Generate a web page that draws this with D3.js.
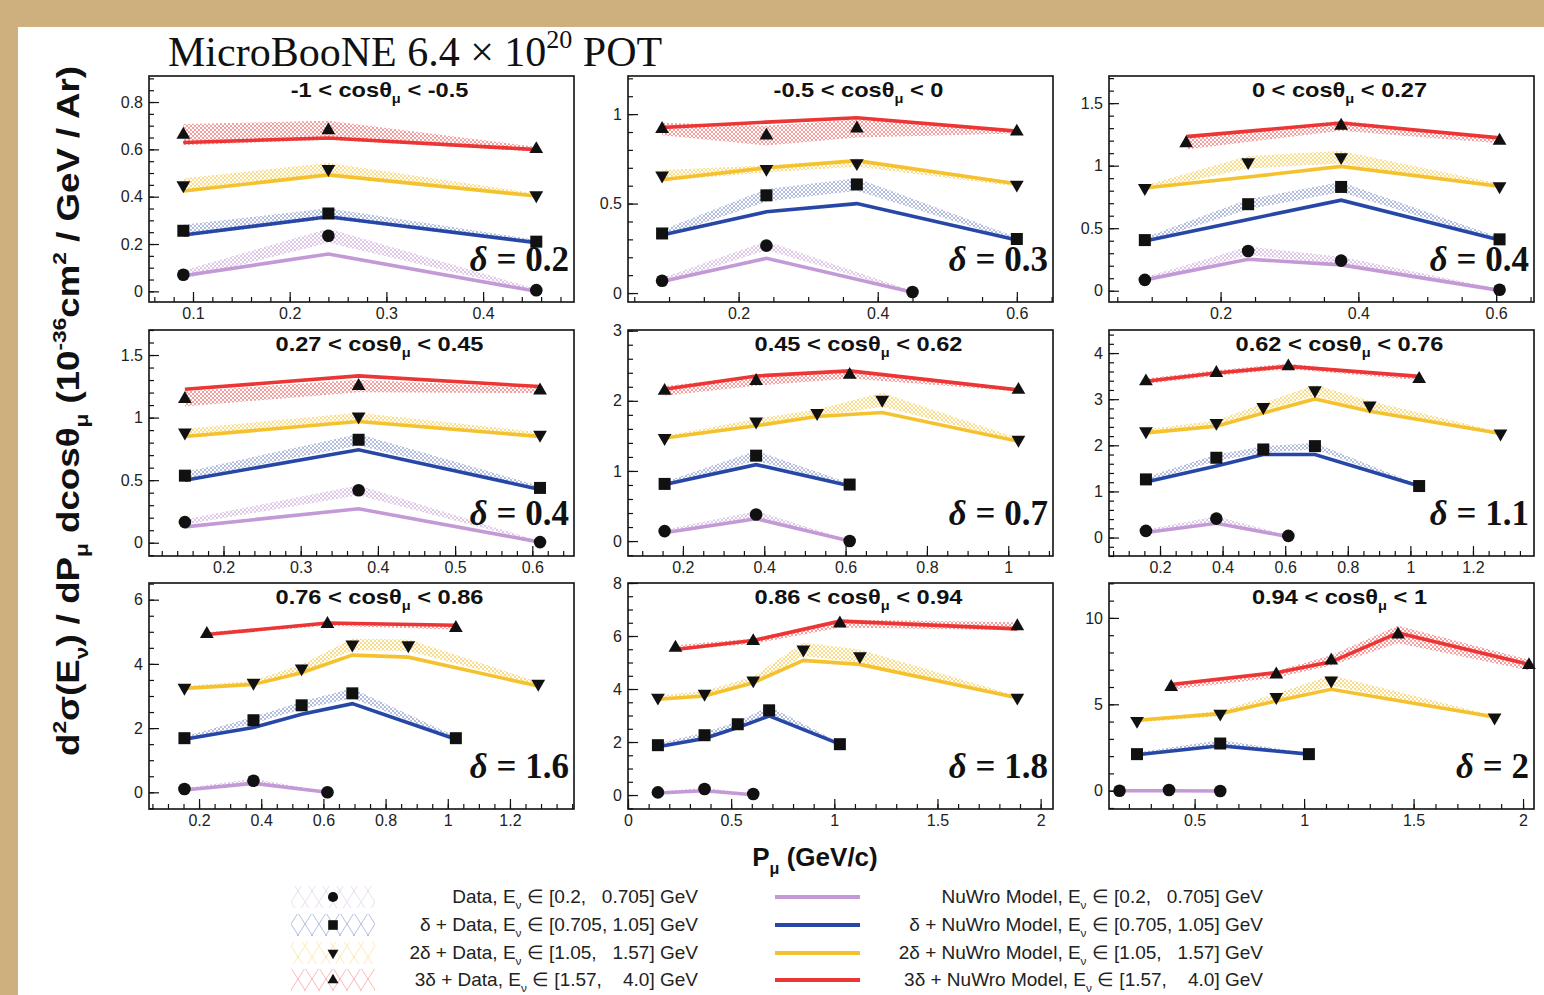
<!DOCTYPE html>
<html>
<head>
<meta charset="utf-8">
<script src="https://cdn.jsdelivr.net/npm/d3@7"></script>
<style>
  body { margin: 0; background: #cdb07d; }
  svg text { white-space: pre; }
</style>
</head>
<body>
<svg id="chart" width="1544" height="995" font-family="Liberation Sans, Arial, sans-serif"></svg>
<script>
// panel labels
const cosLo = ["-1", "-0.5", "0", "0.27", "0.45", "0.62", "0.76", "0.86", "0.94"];
const cosHi = ["-0.5", "0", "0.27", "0.45", "0.62", "0.76", "0.86", "0.94", "1"];
const deltas = ["0.2", "0.3", "0.4", "0.4", "0.7", "1.1", "1.6", "1.8", "2"];

// axis ranges and ticks
const xDomains = [[0.0545, 0.494], [0.041, 0.652], [0.038, 0.655], [0.1035, 0.654], [0.065, 1.11],
                  [0.037, 1.395], [0.039, 1.406], [0, 2.06], [0.109, 2.05]];
const yDomains = [[-0.045, 0.91], [-0.05, 1.213], [-0.09, 1.717], [-0.106, 1.70], [-0.213, 3.01],
                  [-0.40, 4.50], [-0.52, 6.52], [-0.527, 8.0], [-1.06, 12.02]];
const xTicks = [[0.1, 0.2, 0.3, 0.4], [0.2, 0.4, 0.6], [0.2, 0.4, 0.6], [0.2, 0.3, 0.4, 0.5, 0.6],
                [0.2, 0.4, 0.6, 0.8, 1], [0.2, 0.4, 0.6, 0.8, 1, 1.2], [0.2, 0.4, 0.6, 0.8, 1, 1.2],
                [0, 0.5, 1, 1.5, 2], [0.5, 1, 1.5, 2]];
const xMinor = [0.02, 0.05, 0.05, 0.02, 0.05, 0.05, 0.05, 0.1, 0.1];
const yTicks = [[0, 0.2, 0.4, 0.6, 0.8], [0, 0.5, 1], [0, 0.5, 1, 1.5], [0, 0.5, 1, 1.5], [0, 1, 2, 3],
                [0, 1, 2, 3, 4], [0, 2, 4, 6], [0, 2, 4, 6, 8], [0, 5, 10]];
const yMinor = [0.05, 0.1, 0.1, 0.1, 0.2, 0.2, 0.5, 0.5, 1];

// series order: [Eν 0.2-0.705, δ+ 0.705-1.05, 2δ+ 1.05-1.57, 3δ+ 1.57-4.0]
const pMu = [
  [[0.09, 0.24, 0.455], [0.09, 0.24, 0.455], [0.09, 0.24, 0.455], [0.09, 0.24, 0.455]],
  [[0.09, 0.24, 0.45], [0.09, 0.24, 0.37, 0.6], [0.09, 0.24, 0.37, 0.6], [0.09, 0.24, 0.37, 0.6]],
  [[0.09, 0.24, 0.375, 0.605], [0.09, 0.24, 0.375, 0.605], [0.09, 0.24, 0.375, 0.605], [0.15, 0.375, 0.605]],
  [[0.15, 0.375, 0.61], [0.15, 0.375, 0.61], [0.15, 0.375, 0.61], [0.15, 0.375, 0.61]],
  [[0.155, 0.38, 0.61], [0.155, 0.38, 0.61], [0.155, 0.38, 0.53, 0.69, 1.025], [0.155, 0.38, 0.61, 1.025]],
  [[0.155, 0.38, 0.61], [0.155, 0.38, 0.53, 0.695, 1.028], [0.155, 0.38, 0.53, 0.695, 0.87, 1.288], [0.155, 0.38, 0.61, 1.028]],
  [[0.153, 0.375, 0.613], [0.153, 0.375, 0.53, 0.693, 1.026], [0.153, 0.375, 0.53, 0.693, 0.873, 1.291], [0.225, 0.613, 1.026]],
  [[0.145, 0.371, 0.607], [0.145, 0.371, 0.532, 0.684, 1.027], [0.145, 0.371, 0.607, 0.85, 1.124, 1.887], [0.23, 0.607, 1.027, 1.887]],
  [[0.157, 0.383, 0.617], [0.237, 0.617, 1.022], [0.237, 0.617, 0.873, 1.124, 1.87], [0.393, 0.873, 1.124, 1.429, 2.027]]
];
const dataVals = [
  [[0.070, 0.235, 0.005], [0.256, 0.329, 0.210], [0.448, 0.517, 0.406], [0.662, 0.681, 0.601]],
  [[0.069, 0.265, 0.006], [0.333, 0.546, 0.607, 0.302], [0.657, 0.694, 0.726, 0.606], [0.917, 0.88, 0.92, 0.902]],
  [[0.087, 0.318, 0.241, 0.008], [0.405, 0.692, 0.830, 0.411], [0.822, 1.028, 1.068, 0.835], [1.179, 1.320, 1.20]],
  [[0.165, 0.419, 0.005], [0.536, 0.823, 0.438], [0.881, 1.009, 0.863], [1.149, 1.253, 1.216]],
  [[0.142, 0.379, 0.0], [0.815, 1.218, 0.806], [1.469, 1.706, 1.825, 2.014, 1.445], [2.142, 2.284, 2.37, 2.156]],
  [[0.144, 0.411, 0.036], [1.261, 1.730, 1.910, 1.982, 1.117], [2.306, 2.486, 2.832, 3.193, 2.861, 2.256], [3.387, 3.568, 3.712, 3.438]],
  [[0.103, 0.362, 0.0], [1.686, 2.245, 2.710, 3.083, 1.686], [3.259, 3.414, 3.859, 4.603, 4.583, 3.383], [4.934, 5.245, 5.121]],
  [[0.10, 0.226, 0.038], [1.881, 2.257, 2.671, 3.197, 1.918], [3.674, 3.824, 4.326, 5.492, 5.241, 3.674], [5.555, 5.806, 6.47, 6.37]],
  [[0.0, 0.04, -0.02], [2.115, 2.73, 2.115], [4.04, 4.46, 5.42, 6.38, 4.23], [6.0, 6.73, 7.54, 9.04, 7.27]]
];
const dataErr = [
  [[0.018, 0.03, 0.005], [0.025, 0.022, 0.008], [0.03, 0.025, 0.008], [0.045, 0.04, 0.01]],
  [[0.015, 0.025, 0.005], [0.02, 0.035, 0.035, 0.01], [0.03, 0.02, 0.02, 0.01], [0.035, 0.055, 0.05, 0.01]],
  [[0.02, 0.035, 0.03, 0.005], [0.02, 0.04, 0.04, 0.015], [0.02, 0.05, 0.05, 0.02], [0.05, 0.04, 0.02]],
  [[0.02, 0.04, 0.005], [0.03, 0.045, 0.015], [0.03, 0.03, 0.02], [0.06, 0.05, 0.02]],
  [[0.02, 0.05, 0.01], [0.03, 0.07, 0.02], [0.03, 0.04, 0.05, 0.1, 0.02], [0.07, 0.07, 0.05, 0.02]],
  [[0.03, 0.05, 0.01], [0.05, 0.07, 0.07, 0.07, 0.02], [0.04, 0.05, 0.08, 0.12, 0.1, 0.03], [0.06, 0.06, 0.06, 0.03]],
  [[0.03, 0.06, 0.01], [0.05, 0.1, 0.12, 0.15, 0.05], [0.05, 0.06, 0.12, 0.18, 0.18, 0.05], [0.05, 0.06, 0.05]],
  [[0.03, 0.05, 0.01], [0.06, 0.1, 0.1, 0.15, 0.05], [0.08, 0.1, 0.15, 0.25, 0.25, 0.06], [0.1, 0.1, 0.15, 0.15]],
  [[0.03, 0.04, 0.02], [0.1, 0.2, 0.05], [0.1, 0.15, 0.2, 0.3, 0.1], [0.15, 0.2, 0.3, 0.5, 0.3]]
];
const modelVals = [
  [[0.066, 0.158, 0.0], [0.238, 0.315, 0.206], [0.424, 0.492, 0.403], [0.629, 0.648, 0.599]],
  [[0.065, 0.194, 0.005], [0.324, 0.454, 0.50, 0.296], [0.633, 0.70, 0.74, 0.611], [0.925, 0.955, 0.98, 0.905]],
  [[0.087, 0.252, 0.207, 0.003], [0.398, 0.57, 0.724, 0.405], [0.822, 0.909, 0.994, 0.835], [1.232, 1.341, 1.222]],
  [[0.127, 0.271, 0.005], [0.499, 0.743, 0.425], [0.849, 0.969, 0.849], [1.226, 1.333, 1.248]],
  [[0.118, 0.318, 0.0], [0.806, 1.09, 0.79], [1.469, 1.645, 1.777, 1.834, 1.422], [2.166, 2.355, 2.427, 2.156]],
  [[0.108, 0.31, 0.02], [1.204, 1.55, 1.80, 1.80, 1.117], [2.27, 2.414, 2.70, 3.005, 2.74, 2.256], [3.387, 3.568, 3.712, 3.495]],
  [[0.072, 0.279, 0.0], [1.655, 2.017, 2.43, 2.762, 1.655], [3.238, 3.362, 3.724, 4.272, 4.21, 3.31], [4.914, 5.276, 5.203]],
  [[0.075, 0.163, 0.01], [1.818, 2.13, 2.545, 2.984, 1.918], [3.611, 3.737, 4.238, 5.078, 4.93, 3.674], [5.49, 5.83, 6.56, 6.27]],
  [[0.0, 0.0, -0.02], [2.08, 2.6, 2.115], [4.08, 4.46, 5.19, 5.87, 4.27], [6.15, 6.83, 7.46, 9.13, 7.31]]
];

const colors = ["#c49ad6", "#2747a6", "#f5c22f", "#ec3535"];
const hatchOpacity = [0.7, 0.45, 0.7, 0.6];
const legendPrefix = ["", "δ + ", "2δ + ", "3δ + "];
const legendRanges = ["[0.2,   0.705]", "[0.705, 1.05]", "[1.05,   1.57]", "[1.57,    4.0]"];

const W = 1544, H = 995;
const SERIF = "Liberation Serif, Times New Roman, serif";
const svg = d3.select("#chart");
svg.append("rect").attr("width", W).attr("height", H).attr("fill", "#cdb07d");
svg.append("rect").attr("x", 18).attr("y", 27).attr("width", W - 18).attr("height", H - 27).attr("fill", "#fff");

const defs = svg.append("defs");
colors.forEach((c, k) => {
  const p = defs.append("pattern").attr("id", "hatch" + k)
    .attr("patternUnits", "userSpaceOnUse").attr("width", 4).attr("height", 4);
  p.append("path").attr("d", "M0,0L4,4M4,0L0,4M-1,3L1,5M3,-1L5,1")
    .attr("stroke", c).attr("stroke-width", 0.8).attr("stroke-opacity", hatchOpacity[k]);
  const q = defs.append("pattern").attr("id", "bighatch" + k)
    .attr("patternUnits", "userSpaceOnUse").attr("x", 291).attr("width", 14).attr("height", 22);
  q.append("path").attr("d", "M0,0L14,22M14,0L0,22")
    .attr("stroke", c).attr("stroke-width", 1).attr("stroke-opacity", 0.35);
});

// text with sub/superscripts: parts = [[text, "sub"|"sup"|"it"|""], ...]
function rich(sel, parts, size) {
  let shift = 0;
  parts.forEach(p => {
    const t = sel.append("tspan").text(p[0]);
    let target = 0;
    if (p[1] === "sub") { t.attr("font-size", size * 0.62); target = size * 0.3; }
    if (p[1] === "sup") { t.attr("font-size", size * 0.62); target = -size * 0.42; }
    if (p[1] === "it") t.attr("font-style", "italic");
    if (target - shift !== 0) t.attr("dy", target - shift);
    shift = target;
  });
  return sel;
}

function marker(k) {
  if (k === 0) return d3.symbol().type(d3.symbolCircle).size(125)();
  if (k === 1) return d3.symbol().type(d3.symbolSquare).size(144)();
  return d3.symbol().type(d3.symbolTriangle).size(82)();
}

const fmt = d => String(+d.toFixed(3));
const colLeft = [149, 628, 1109], rowTop = [76, 330, 583];
const pw = 425, ph = 226;

for (let i = 0; i < 9; i++) {
  const x0 = colLeft[i % 3], y0 = rowTop[Math.floor(i / 3)];
  const g = svg.append("g").attr("transform", "translate(" + x0 + "," + y0 + ")");
  const x = d3.scaleLinear().domain(xDomains[i]).range([0, pw]);
  const y = d3.scaleLinear().domain(yDomains[i]).range([ph, 0]);

  // minor ticks
  const xm = d3.range(Math.ceil(xDomains[i][0] / xMinor[i]), Math.floor(xDomains[i][1] / xMinor[i]) + 1).map(n => n * xMinor[i]);
  const ym = d3.range(Math.ceil(yDomains[i][0] / yMinor[i]), Math.floor(yDomains[i][1] / yMinor[i]) + 1).map(n => n * yMinor[i]);
  g.append("g").attr("transform", "translate(0," + ph + ")")
    .call(d3.axisBottom(x).tickValues(xm).tickSize(-5).tickFormat(""));
  g.append("g").call(d3.axisLeft(y).tickValues(ym).tickSize(-5).tickFormat(""));
  g.append("g").attr("transform", "translate(0," + ph + ")")
    .call(d3.axisBottom(x).tickValues(xTicks[i]).tickSize(-10).tickPadding(6).tickFormat(fmt));
  g.append("g")
    .call(d3.axisLeft(y).tickValues(yTicks[i]).tickSize(-10).tickPadding(6).tickFormat(fmt));
  g.selectAll(".domain").remove();
  g.selectAll(".tick line").attr("stroke", "#111").attr("stroke-width", 1.2);
  g.selectAll(".tick text").attr("font-size", 16).attr("fill", "#222")
    .attr("font-family", "Liberation Sans, Arial, sans-serif");

  const plot = g.append("g");
  for (let k = 0; k < 4; k++) {
    const pts = pMu[i][k].map((v, j) => ({ x: v, d: dataVals[i][k][j], e: dataErr[i][k][j] }));
    plot.append("path").datum(pts)
      .attr("fill", "url(#hatch" + k + ")")
      .attr("d", d3.area().x(d => x(d.x)).y0(d => y(d.d - d.e)).y1(d => y(d.d + d.e)));
  }
  for (let k = 0; k < 4; k++) {
    const pts = pMu[i][k].map((v, j) => ({ x: v, m: modelVals[i][k][j] }));
    plot.append("path").datum(pts)
      .attr("fill", "none").attr("stroke", colors[k]).attr("stroke-width", 3.6)
      .attr("d", d3.line().x(d => x(d.x)).y(d => y(d.m)));
  }
  for (let k = 0; k < 4; k++) {
    const pts = pMu[i][k].map((v, j) => ({ x: v, d: dataVals[i][k][j] }));
    plot.selectAll(null).data(pts).enter().append("path")
      .attr("d", marker(k)).attr("fill", "#111")
      .attr("transform", d => "translate(" + x(d.x) + "," + y(d.d) + ")" + (k === 2 ? " rotate(180)" : ""));
  }

  g.append("rect").attr("width", pw).attr("height", ph)
    .attr("fill", "none").attr("stroke", "#111").attr("stroke-width", 1.6);

  rich(g.append("text").attr("transform", "translate(" + (pw / 2 + 18) + ",21) scale(1.18,1)")
    .attr("text-anchor", "middle")
    .attr("font-size", 20).attr("font-weight", "bold").attr("fill", "#111"),
    [[cosLo[i] + " < cosθ", ""], ["μ", "sub"], [" < " + cosHi[i], ""]], 20);

  rich(g.append("text").attr("x", pw - 5).attr("y", 195).attr("text-anchor", "end")
    .attr("font-family", SERIF)
    .attr("font-size", 35).attr("font-weight", "bold").attr("fill", "#111"),
    [["δ", "it"], [" = " + deltas[i], ""]], 35);
}

// main title
rich(svg.append("text").attr("x", 168).attr("y", 66)
  .attr("font-family", SERIF).attr("font-size", 42).attr("fill", "#111"),
  [["MicroBooNE 6.4 × 10", ""], ["20", "sup"], [" POT", ""]], 42);

// y title, stretched along its length to the reference's extent
const yTitle = rich(svg.append("text").attr("text-anchor", "middle")
  .attr("font-size", 31).attr("font-weight", "bold").attr("fill", "#111"),
  [["d", ""], ["2", "sup"], ["σ(E", ""], ["ν", "sub"], [") / dP", ""], ["μ", "sub"], [" dcosθ", ""], ["μ", "sub"],
   [" (10", ""], ["-36", "sup"], ["cm", ""], ["2", "sup"], [" / GeV / Ar)", ""]], 31);
const yw = yTitle.node().getBBox().width;
yTitle.attr("transform", "translate(79,411) rotate(-90) scale(" + (690 / yw) + ",1)");

// x title
rich(svg.append("text").attr("x", 815).attr("y", 866).attr("text-anchor", "middle")
  .attr("font-size", 26).attr("font-weight", "bold").attr("fill", "#111"),
  [["P", ""], ["μ", "sub"], [" (GeV/c)", ""]], 26);

// legend
const rowY = [897, 925, 953, 980];
for (let k = 0; k < 4; k++) {
  const ly = rowY[k];
  svg.append("rect").attr("x", 291).attr("y", ly - 11).attr("width", 84).attr("height", 22)
    .attr("fill", "url(#bighatch" + k + ")");
  svg.append("path").attr("d", marker(k)).attr("fill", "#111")
    .attr("transform", "translate(333," + ly + ") scale(0.8)" + (k === 2 ? " rotate(180)" : ""));
  rich(svg.append("text").attr("x", 698).attr("y", ly + 6).attr("text-anchor", "end")
    .attr("font-size", 19).attr("fill", "#222"),
    [[legendPrefix[k] + "Data, E", ""], ["ν", "sub"], [" ∈ " + legendRanges[k] + " GeV", ""]], 19);

  svg.append("line").attr("x1", 775).attr("x2", 860).attr("y1", ly).attr("y2", ly)
    .attr("stroke", colors[k]).attr("stroke-width", 4);
  rich(svg.append("text").attr("x", 1263).attr("y", ly + 6).attr("text-anchor", "end")
    .attr("font-size", 19).attr("fill", "#222"),
    [[legendPrefix[k] + "NuWro Model, E", ""], ["ν", "sub"], [" ∈ " + legendRanges[k] + " GeV", ""]], 19);
}
</script>
</body>
</html>
